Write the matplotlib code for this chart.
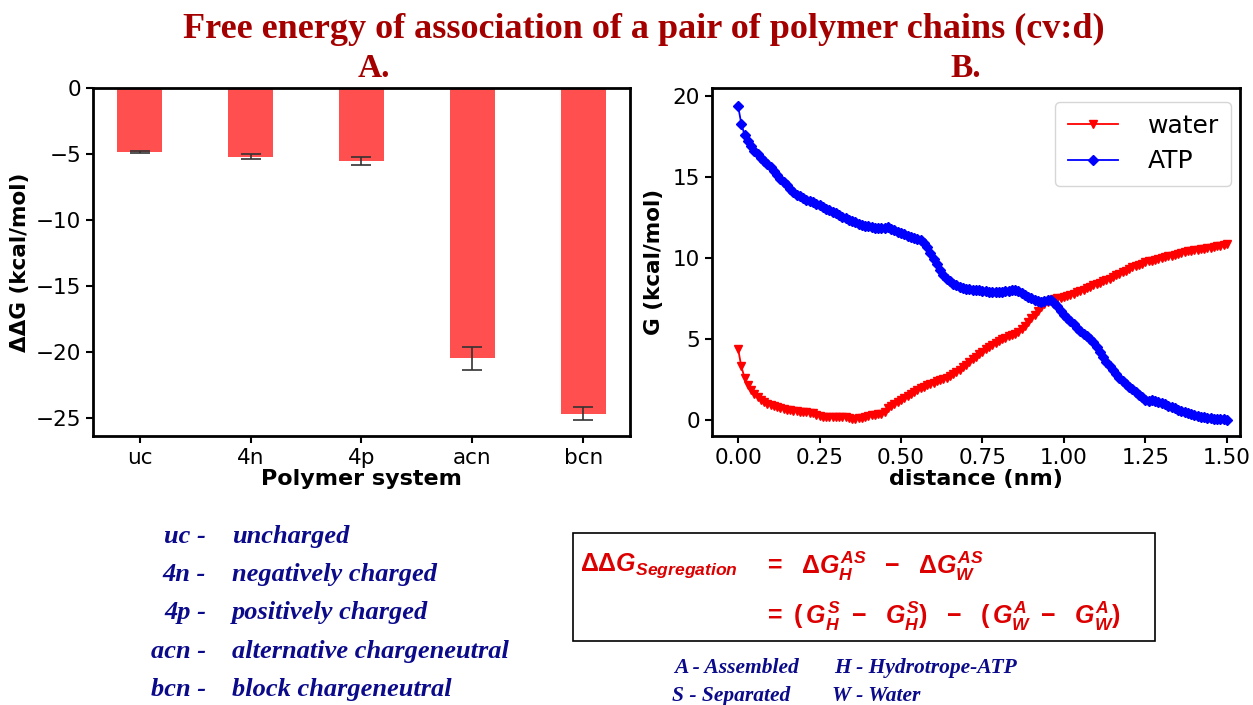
import numpy as np
import matplotlib
matplotlib.use('Agg')
import matplotlib.pyplot as plt
from matplotlib.patches import Rectangle

plt.rcParams['mathtext.fontset'] = 'custom'
plt.rcParams['mathtext.rm'] = 'Liberation Sans:bold'
plt.rcParams['mathtext.it'] = 'Liberation Sans:bold:italic'
plt.rcParams['mathtext.bf'] = 'Liberation Sans:bold'

################################## Data ########################################
systems = ['uc', '4n', '4p', 'acn', 'bcn']
ddG = [-4.88, -5.22, -5.55, -20.5, -24.7]
ddG_err = [0.08, 0.18, 0.28, 0.88, 0.5]

dist = np.round(np.arange(151) * 0.01, 2)

G_water = [4.4, 3.3, 2.6, 2.15, 1.85, 1.6, 1.4, 1.22, 1.1, 1.0,
           0.92, 0.85, 0.78, 0.72, 0.66, 0.62, 0.58, 0.55, 0.52, 0.5,
           0.5, 0.48, 0.45, 0.4, 0.32, 0.25, 0.2, 0.18, 0.2, 0.2,
           0.2, 0.2, 0.18, 0.15, 0.1, 0.05, 0.05, 0.08, 0.13, 0.18,
           0.24, 0.28, 0.3, 0.33, 0.38, 0.5, 0.7, 0.85, 0.98, 1.1,
           1.2, 1.32, 1.45, 1.58, 1.7, 1.82, 1.95, 2.05, 2.15, 2.22,
           2.3, 2.38, 2.45, 2.52, 2.6, 2.7, 2.82, 2.95, 3.1, 3.25,
           3.4, 3.57, 3.73, 3.9, 4.05, 4.2, 4.35, 4.5, 4.65, 4.77,
           4.88, 4.98, 5.08, 5.15, 5.22, 5.3, 5.45, 5.62, 5.82, 6.05,
           6.28, 6.5, 6.75, 6.98, 7.15, 7.28, 7.38, 7.45, 7.5, 7.55,
           7.6, 7.67, 7.74, 7.8, 7.87, 7.95, 8.03, 8.12, 8.21, 8.3,
           8.4, 8.48, 8.56, 8.64, 8.72, 8.82, 8.92, 9.02, 9.12, 9.22,
           9.32, 9.42, 9.5, 9.58, 9.65, 9.72, 9.78, 9.84, 9.9, 9.95,
           10.0, 10.05, 10.1, 10.15, 10.2, 10.25, 10.3, 10.35, 10.4, 10.43,
           10.47, 10.5, 10.53, 10.56, 10.6, 10.64, 10.68, 10.72, 10.76, 10.8,
           10.85]

G_atp = [19.4, 18.3, 17.6, 17.2, 16.9, 16.6, 16.4, 16.2, 16.0, 15.8,
         15.6, 15.35, 15.1, 14.9, 14.7, 14.5, 14.25, 14.05, 13.9, 13.8,
         13.7, 13.6, 13.5, 13.45, 13.35, 13.25, 13.15, 13.05, 12.95, 12.85,
         12.75, 12.65, 12.55, 12.45, 12.35, 12.27, 12.2, 12.12, 12.05, 12.0,
         11.95, 11.9, 11.85, 11.82, 11.82, 11.88, 11.9, 11.8, 11.7, 11.6,
         11.52, 11.45, 11.38, 11.3, 11.22, 11.15, 11.12, 10.95, 10.65, 10.3,
         9.95, 9.6, 9.25, 8.95, 8.72, 8.55, 8.4, 8.3, 8.22, 8.16,
         8.1, 8.07, 8.04, 8.02, 8.0, 7.97, 7.94, 7.9, 7.88, 7.87,
         7.88, 7.9, 7.95, 7.98, 8.02, 8.03, 7.95, 7.83, 7.7, 7.6,
         7.5, 7.42, 7.35, 7.3, 7.35, 7.42, 7.4, 7.2, 7.0, 6.75,
         6.5, 6.3, 6.1, 5.9, 5.7, 5.5, 5.3, 5.15, 5.0, 4.8,
         4.5, 4.2, 3.9, 3.6, 3.35, 3.1, 2.85, 2.6, 2.4, 2.2,
         2.05, 1.88, 1.72, 1.55, 1.38, 1.22, 1.18, 1.2, 1.18, 1.1,
         1.02, 0.95, 0.88, 0.8, 0.72, 0.63, 0.55, 0.47, 0.4, 0.35,
         0.3, 0.25, 0.2, 0.16, 0.12, 0.09, 0.06, 0.04, 0.03, 0.03,
         0.0]

abbrev = ['uc -', '4n -', '4p -', 'acn -', 'bcn -']
meaning = ['uncharged', 'negatively charged', 'positively charged',
           'alternative chargeneutral', 'block chargeneutral']

title_red = '#a50000'
navy = '#0a0a8a'
serif_bi = dict(family='Liberation Serif', weight='bold', style='italic')

fig = plt.figure(figsize=(12.53, 7.05), dpi=100)

fig.text(0.514, 0.958, 'Free energy of association of a pair of polymer chains (cv:d)',
         ha='center', va='center', family='Liberation Serif', weight='bold',
         fontsize=26, color=title_red)
fig.text(0.2985, 0.903, 'A.', ha='center', va='center', family='Liberation Serif',
         weight='bold', fontsize=24, color=title_red)
fig.text(0.771, 0.903, 'B.', ha='center', va='center', family='Liberation Serif',
         weight='bold', fontsize=24, color=title_red)

################################ Panel A: bars ##################################
ax1 = fig.add_axes([0.0742, 0.3816, 0.4286, 0.4936])
x = np.arange(len(systems))
ax1.bar(x, ddG, width=0.4, color='#ff4f4f', yerr=ddG_err, capsize=7,
        error_kw=dict(ecolor='#333333', elinewidth=1.2, capthick=1.2))
ax1.set_xticks(x)
ax1.set_xticklabels(systems)
ax1.set_xlim(-0.42, 4.42)
ax1.set_ylim(-26.4, 0)
ax1.set_yticks([0, -5, -10, -15, -20, -25])
ax1.set_xlabel('Polymer system', fontsize=16, fontweight='bold', labelpad=1)
ax1.set_ylabel('ΔΔG (kcal/mol)', fontsize=15.5, fontweight='bold', labelpad=4)

############################### Panel B: profiles ###############################
ax2 = fig.add_axes([0.5682, 0.3816, 0.4214, 0.4936])
ax2.plot(dist, G_water, color='red', marker='v', markersize=5.5, linewidth=1.3, label='water')
ax2.plot(dist, G_atp, color='blue', marker='D', markersize=5, linewidth=1.3, label='ATP')
ax2.set_xlim(-0.08, 1.54)
ax2.set_ylim(-1.0, 20.5)
ax2.set_xticks([0.0, 0.25, 0.5, 0.75, 1.0, 1.25, 1.5])
ax2.set_xticklabels(['0.00', '0.25', '0.50', '0.75', '1.00', '1.25', '1.50'])
ax2.set_yticks([0, 5, 10, 15, 20])
ax2.set_xlabel('distance (nm)', fontsize=16, fontweight='bold', labelpad=1)
ax2.set_ylabel('G (kcal/mol)', fontsize=15.5, fontweight='bold', labelpad=6)
ax2.legend(loc='upper right', fontsize=18, handlelength=2.0, handletextpad=1.2,
           borderpad=0.5, labelspacing=0.45, borderaxespad=0.2,
           bbox_to_anchor=(0.993, 0.975))

for ax in (ax1, ax2):
    for sp in ax.spines.values():
        sp.set_linewidth(2)
    ax.tick_params(labelsize=15.5, width=1.5, length=5)

############################### Key / equation ##################################
rows_y = [0.2383, 0.1844, 0.1305, 0.0752, 0.0213]
for a, m, yy in zip(abbrev, meaning, rows_y):
    fig.text(0.1644, yy, a, ha='right', va='center', fontsize=19, color=navy, **serif_bi)
    fig.text(0.185, yy, m, ha='left', va='center', fontsize=19, color=navy, **serif_bi)

fig.patches.append(Rectangle((0.4573, 0.0908), 0.4645, 0.1532, transform=fig.transFigure,
                             fill=False, edgecolor='black', linewidth=1.2))
eq_red = '#dd0000'
fig.text(0.4629, 0.197, r'$\Delta\Delta G_{Segregation}$', ha='left', va='center',
         fontsize=18, color=eq_red)
fig.text(0.609, 0.197, r'$=\ \ \Delta G_H^{AS}\ \ -\ \ \Delta G_W^{AS}$', ha='left',
         va='center', fontsize=18, color=eq_red)
fig.text(0.609, 0.126, r'$=\ (\,G_H^S\ -\ \ G_H^S)\ \ -\ \ (\,G_W^A\ -\ \ G_W^A)$', ha='left',
         va='center', fontsize=18, color=eq_red)

fig.text(0.538, 0.052, 'A - Assembled', ha='left', va='center', fontsize=15.5, color=navy, **serif_bi)
fig.text(0.666, 0.052, 'H - Hydrotrope-ATP', ha='left', va='center', fontsize=15.5, color=navy, **serif_bi)
fig.text(0.536, 0.013, 'S - Separated', ha='left', va='center', fontsize=15.5, color=navy, **serif_bi)
fig.text(0.664, 0.013, 'W - Water', ha='left', va='center', fontsize=15.5, color=navy, **serif_bi)

fig.savefig('out.png', dpi=100)
